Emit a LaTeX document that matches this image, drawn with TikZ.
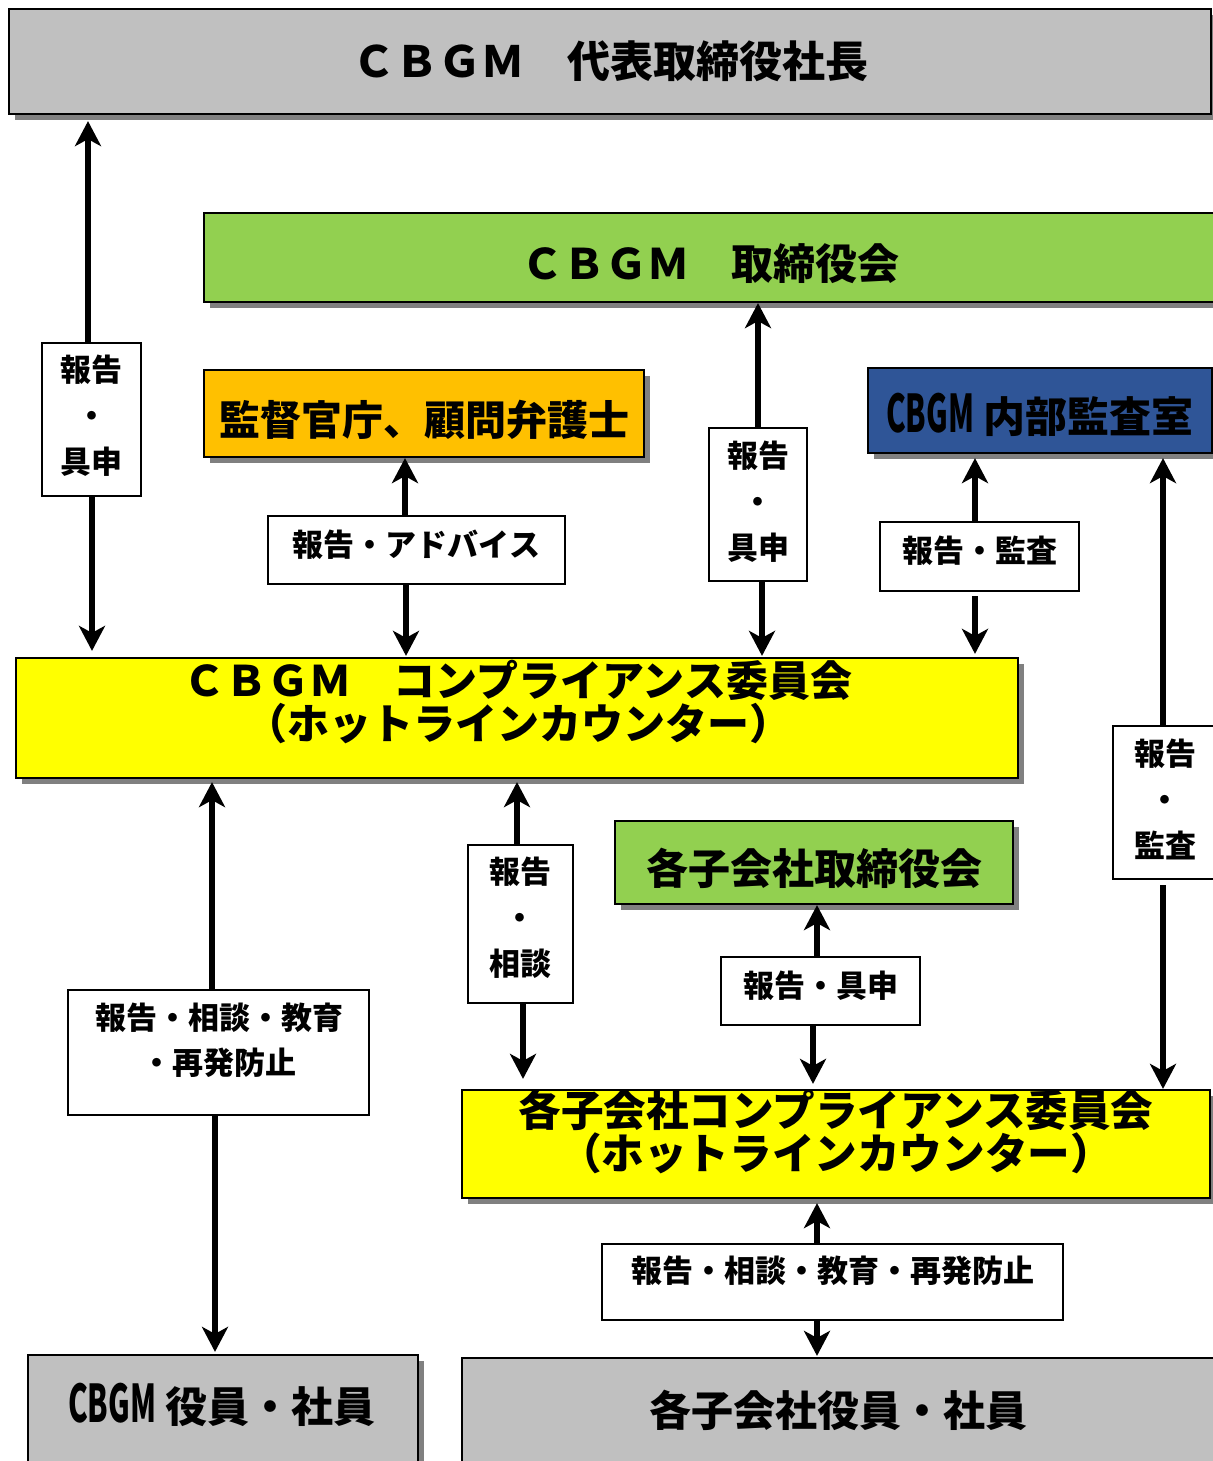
\documentclass[tikz,border=0pt]{standalone}
\usepackage{fontspec}
\setmainfont{Noto Sans CJK JP}
\newfontfamily\condfont{Noto Sans CJK JP}[FakeStretch=0.57]
\usetikzlibrary{arrows.meta,shadows}
\definecolor{boxgray}{HTML}{C0C0C0}
\definecolor{boxgreen}{HTML}{92D050}
\definecolor{boxorange}{HTML}{FFC000}
\definecolor{boxblue}{HTML}{2F5597}
\definecolor{boxyellow}{HTML}{FFFF00}
\definecolor{shadowgray}{HTML}{808080}
\newcommand{\cbgmcond}{{\condfont\fontsize{26pt}{26pt}\selectfont CBGM}}
\begin{document}
\begin{tikzpicture}[x=0.5pt,y=-0.5pt,
  bigbox/.style={draw=black, line width=1.1pt, inner sep=0pt,
    drop shadow={shadow xshift=3pt, shadow yshift=-3pt, fill=shadowgray, opacity=1},
    font=\bfseries\fontsize{21pt}{21pt}\selectfont},
  lowtext/.style={text height=22pt, text depth=0pt},
  bigtext/.style={inner sep=0pt, align=center},
  lbl/.style={draw=black, fill=white, line width=1pt, inner sep=0pt, align=center,
    font=\bfseries\fontsize{15.5pt}{23pt}\selectfont},
  lbltext/.style={inner sep=0pt, align=center, font=\bfseries\fontsize{15.5pt}{23pt}\selectfont},
  lbltop/.style={text height=13pt, text depth=7pt},
  arr/.style={line width=2.6pt, shorten >=1.5pt, -{Stealth[length=12.5pt,width=13pt,inset=3.5pt]}}
]
\useasboundingbox (0,0) rectangle (1213,1461);

% main boxes
\node[bigbox, fill=boxgray, minimum width=601pt, minimum height=52.5pt,
      font=\bfseries\fontsize{21.5pt}{21.5pt}\selectfont] (ceo) at (610,61.5) {ＣＢＧＭ　代表取締役社長};
\node[bigbox, lowtext, fill=boxgreen, minimum width=506pt, minimum height=44.5pt] (board) at (710,257.5) {ＣＢＧＭ　取締役会};
\node[bigbox, lowtext, fill=boxorange, minimum width=220pt, minimum height=43.5pt,
      font=\bfseries\fontsize{20.5pt}{20.5pt}\selectfont] (gov) at (424,413.5) {監督官庁、顧問弁護士};
\node[bigbox, lowtext, fill=boxblue, minimum width=172pt, minimum height=42.5pt] (audit) at (1040,410.5) {\cbgmcond\ 内部監査室};
\node[bigbox, fill=boxyellow, minimum width=501pt, minimum height=60pt] (cmt) at (517,718) {};
\node[bigtext, font=\bfseries\fontsize{21pt}{20pt}\selectfont] (cmttext) at (518,702)
  {ＣＢＧＭ　コンプライアンス委員会\\（ホットラインカウンター）};
\node[bigbox, lowtext, fill=boxgreen, minimum width=199pt, minimum height=41.5pt] (subboard) at (814,862.5) {各子会社取締役会};
\node[bigbox, fill=boxyellow, minimum width=374pt, minimum height=54pt] (subcmt) at (836,1144) {};
\node[bigtext, font=\bfseries\fontsize{21.3pt}{20pt}\selectfont] (subcmttext) at (836,1132)
  {各子会社コンプライアンス委員会\\（ホットラインカウンター）};
\node[bigbox, fill=boxgray, minimum width=195pt, minimum height=57.5pt] (emp) at (223,1412.5) {};
\node[bigtext, font=\bfseries\fontsize{21pt}{21pt}\selectfont] (emptext) at (222,1405) {\cbgmcond\ 役員・社員};
\node[bigbox, fill=boxgray, minimum width=379pt, minimum height=56pt] (subemp) at (841,1414) {};
\node[bigtext, font=\bfseries\fontsize{21pt}{21pt}\selectfont] (subemptext) at (838,1410) {各子会社役員・社員};

% label boxes
\node[lbl, minimum width=49.5pt, minimum height=76.5pt] (la) at (91.5,419.5) {};
\node[lbltext] (latext) at (91.5,416) {報告\\・\\具申};
\node[lbl, lbltop, minimum width=148.5pt, minimum height=34pt] (lb) at (416.5,550) {報告・アドバイス};
\node[lbl, minimum width=49pt, minimum height=76.5pt] (lc) at (758,504.5) {};
\node[lbltext] (lctext) at (758,501.5) {報告\\・\\具申};
\node[lbl, lbltop, minimum width=99.5pt, minimum height=34.5pt] (ld) at (979.5,556.5) {報告・監査};
\node[lbl, minimum width=51pt, minimum height=76.5pt] (le) at (1164,802.5) {};
\node[lbltext] (letext) at (1165,799) {報告\\・\\監査};
\node[lbl, minimum width=52.5pt, minimum height=79pt] (lf) at (520.5,924) {};
\node[lbltext] (lftext) at (520,918) {報告\\・\\相談};
\node[lbl, lbltop, minimum width=99.5pt, minimum height=34pt] (lg) at (820.5,991) {報告・具申};
\node[lbl, minimum width=150.5pt, minimum height=62.5pt] (lh) at (218.5,1052.5) {};
\node[lbltext, font=\bfseries\fontsize{15.5pt}{22.5pt}\selectfont] (lhtext) at (219,1040.5) {報告・相談・教育\\・再発防止};
\node[lbl, text height=13pt, text depth=13pt, minimum width=230.5pt, minimum height=38pt] (li) at (832.5,1282) {報告・相談・教育・再発防止};

% connector columns
\coordinate (xa1) at (88,0);   \coordinate (xa2) at (92,0);
\coordinate (xb1) at (405,0);  \coordinate (xb2) at (406,0);
\coordinate (xc1) at (758,0);  \coordinate (xc2) at (762,0);
\coordinate (xd) at (975,0);
\coordinate (xe) at (1163,0);
\coordinate (xf1) at (517,0);  \coordinate (xf2) at (523,0);
\coordinate (xg1) at (817,0);  \coordinate (xg2) at (813,0);
\coordinate (xh1) at (212,0);  \coordinate (xh2) at (215,0);
\coordinate (xi) at (817,0);

% connectors
\draw[arr, shorten >=3pt] (la.north -| xa1) -- (ceo.south -| xa1);
\draw[arr, shorten >=3pt] (la.south -| xa2) -- (cmt.north -| xa2);
\draw[arr, shorten >=0pt] (lb.north -| xb1) -- (gov.south -| xb1);
\draw[arr, shorten >=0.5pt] (lb.south -| xb2) -- (cmt.north -| xb2);
\draw[arr, shorten >=0pt] (lc.north -| xc1) -- (board.south -| xc1);
\draw[arr, shorten >=0.5pt] (lc.south -| xc2) -- (cmt.north -| xc2);
\draw[arr, shorten >=2pt] (ld.north -| xd) -- (audit.south -| xd);
\draw[arr, shorten <=2pt] (ld.south -| xd) -- (cmt.north -| xd);
\draw[arr, shorten >=2pt] (le.north -| xe) -- (audit.south -| xe);
\draw[arr, shorten <=2.5pt, shorten >=0pt] (le.south -| xe) -- (subcmt.north -| xe);
\draw[arr] (lf.north -| xf1) -- (cmt.south -| xf1);
\draw[arr, shorten >=5pt] (lf.south -| xf2) -- (subcmt.north -| xf2);
\draw[arr, shorten >=0pt] (lg.north -| xg1) -- (subboard.south -| xg1);
\draw[arr, shorten >=2.5pt] (lg.south -| xg2) -- (subcmt.north -| xg2);
\draw[arr] (lh.north -| xh1) -- (cmt.south -| xh1);
\draw[arr, shorten >=1pt] (lh.south -| xh2) -- (emp.north -| xh2);
\draw[arr, shorten >=2pt] (li.north -| xi) -- (subcmt.south -| xi);
\draw[arr, shorten >=0.5pt] (li.south -| xi) -- (subemp.north -| xi);
\end{tikzpicture}
\end{document}
